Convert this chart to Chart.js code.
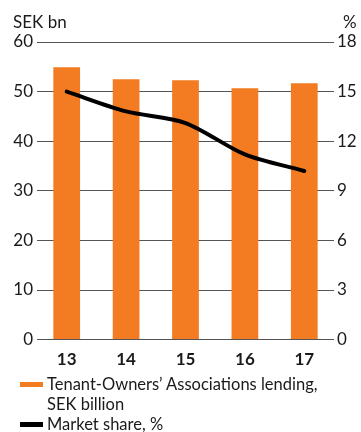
<!DOCTYPE html>
<html>
<head>
<meta charset="utf-8">
<script src="https://cdn.jsdelivr.net/npm/chart.js@4"></script>
<style>
  html, body { margin:0; padding:0; background:#fff; }
  #wrap { position:relative; width:361px; height:432px; font-family:Lato, "Noto Sans", sans-serif; color:#1a1a1a; }
  #c { position:absolute; left:0; top:0; }
  .unit { position:absolute; top:12px; font-size:17px; line-height:20px; }
  #legend { position:absolute; left:20px; top:374px; font-size:16.5px; line-height:20px; }
  .row { display:flex; align-items:flex-start; }
  .sw { width:23px; height:5px; margin-top:8px; margin-right:4px; flex:none; }
</style>
</head>
<body>
<div id="wrap">
  <canvas id="c" width="361" height="432"></canvas>
  <div class="unit" style="left:13px">SEK bn</div>
  <div class="unit" style="left:343px">%</div>
  <div id="legend">
    <div class="row"><span class="sw" style="background:#F37B22"></span><span>Tenant-Owners’ Associations lending,<br>SEK billion</span></div>
    <div class="row"><span class="sw" style="background:#000"></span><span>Market share, %</span></div>
  </div>
</div>
<script>
// Years and series
const years = ['13', '14', '15', '16', '17'];
const lending = [54.9, 52.5, 52.3, 50.7, 51.7];   // SEK bn
const share = [15.0, 13.8, 13.1, 11.2, 10.2];     // %
const leftTicks = [0, 10, 20, 30, 40, 50, 60];
const rightTicks = [0, 3, 6, 9, 12, 15, 18];

const ORANGE = '#F37B22';
const FONT = 'Lato, "Noto Sans", sans-serif';

new Chart(document.getElementById('c'), {
  data: {
    labels: years,
    datasets: [
      { type:'line', data:share, yAxisID:'y1', borderColor:'#000', borderWidth:4,
        tension:0.3, pointRadius:0, order:0, borderCapStyle:'round' },
      { type:'bar', data:lending, yAxisID:'y', backgroundColor:ORANGE,
        barPercentage:0.45, categoryPercentage:1, order:1 }
    ]
  },
  options: {
    responsive:false,
    animation:false,
    layout:{ padding:{ top:42, bottom:60, left:0, right:0 } },
    plugins:{ legend:{ display:false }, tooltip:{ enabled:false } },
    scales:{
      x:{
        grid:{ display:false }, border:{ display:false },
        ticks:{ color:'#1a1a1a', font:{ family:FONT, size:17, weight:'bold' }, padding:2 }
      },
      y:{
        position:'left', min:0, max:60,
        afterBuildTicks: s => { s.ticks = leftTicks.map(v => ({ value:v })); },
        afterFit: s => { s.width = 37; },
        grid:{ color:'#555', lineWidth:1, drawTicks:false },
        border:{ display:false },
        ticks:{ color:'#1a1a1a', font:{ family:FONT, size:17 }, padding:4 }
      },
      y1:{
        position:'right', min:0, max:18,
        afterBuildTicks: s => { s.ticks = rightTicks.map(v => ({ value:v })); },
        afterFit: s => { s.width = 27; },
        grid:{ display:false, drawTicks:false },
        border:{ display:false },
        ticks:{ color:'#1a1a1a', font:{ family:FONT, size:17 }, padding:3 }
      }
    }
  }
});
</script>
</body>
</html>
